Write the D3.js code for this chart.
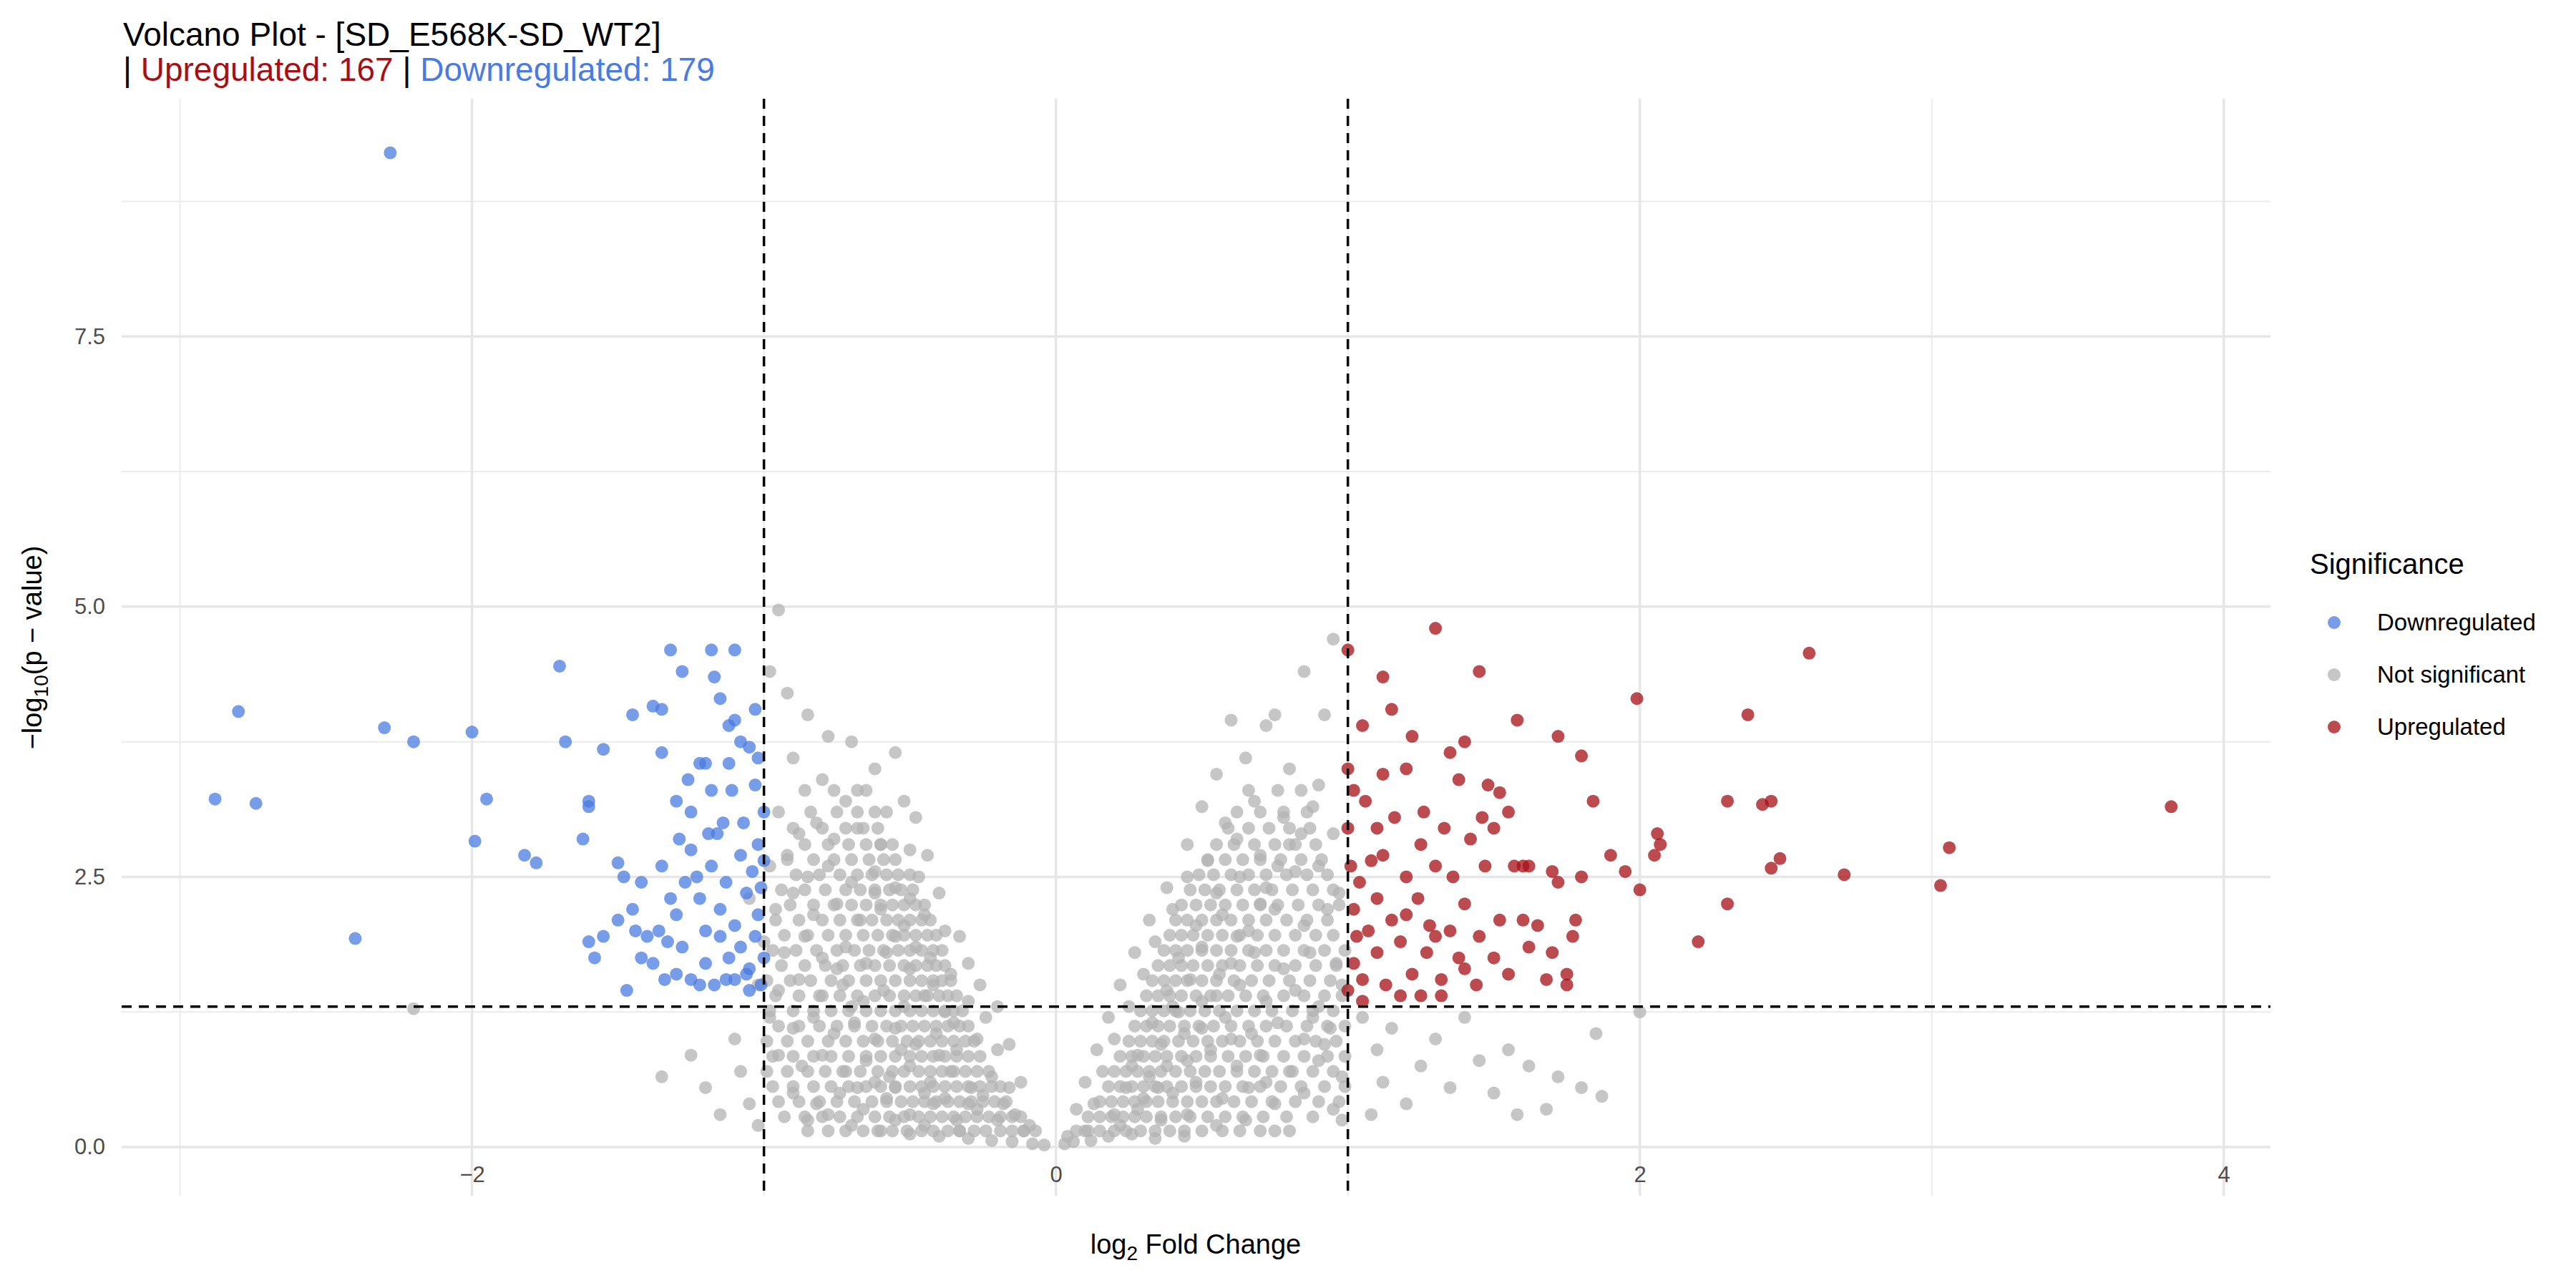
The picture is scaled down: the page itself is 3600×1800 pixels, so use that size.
<!DOCTYPE html>
<html><head><meta charset="utf-8">
<script src="https://cdn.jsdelivr.net/npm/d3@7"></script>
<style>body{margin:0;background:#fff}text{font-family:"Liberation Sans",Arial,sans-serif}</style>
</head><body>
<svg id="c" width="3600" height="1800"></svg>
<script>
const xTicks=[-2,0,2,4], yTicks=[0,2.5,5,7.5];
const xMinor=[-3,-1,1,3], yMinor=[1.25,3.75,6.25,8.75];
const legendLabels=["Downregulated","Not significant","Upregulated"];
const down=[[-2.88,3.22],[-2.8,4.03],[-2.74,3.18],[-2.4,1.93],[-2.3,3.88],[-2.28,9.2],[-2.2,3.75],[-2,3.84],[-1.99,2.83],[-1.95,3.22],[-1.82,2.7],[-1.78,2.63],[-1.7,4.45],[-1.68,3.75],[-1.6,3.15],[-1.6,3.2],[-1.55,3.68],[-1.5,2.63],[-1.48,2.5],[-1.47,1.45],[-1.45,4.0],[-1.42,1.75],[-1.44,2.0],[-1.38,4.08],[-1.35,4.05],[-1.35,3.65],[-1.32,4.6],[-1.3,3.2],[-1.28,4.4],[-1.25,3.1],[-1.23,2.5],[-1.2,3.55],[-1.18,4.6],[-1.17,4.35],[-1.15,4.15],[-1.12,3.9],[-1.1,4.6],[-1.1,3.95],[-1.05,3.7],[-1.03,4.05],[-1.02,3.6],
[-1.4,1.95],[-1.38,1.7],[-1.36,2.0],[-1.33,1.9],[-1.3,2.15],[-1.3,1.6],[-1.28,1.85],[-1.27,2.45],[-1.25,1.55],[-1.25,2.75],[-1.22,2.3],[-1.2,1.7],[-1.2,2.0],[-1.18,2.6],[-1.17,1.5],[-1.16,2.9],[-1.15,1.95],[-1.15,2.2],[-1.13,2.45],[-1.12,1.75],[-1.11,3.3],[-1.1,1.55],[-1.1,2.05],[-1.08,2.7],[-1.08,1.85],[-1.07,3.0],[-1.06,2.35],[-1.05,1.45],[-1.05,1.65],[-1.04,2.55],[-1.03,1.95],[-1.03,3.35],[-1.02,2.15],[-1.02,2.8],[-1.01,1.5],[-1.01,2.4],[-1.0,1.75],[-1.0,2.65],[-1.0,3.1],[-1.26,3.4],[-1.22,3.55],[-1.18,3.3],[-1.14,3.0],[-1.5,2.1],[-1.55,1.95],[-1.58,1.75],[-1.6,1.9],[-1.35,2.6],[-1.32,2.3],[-1.45,2.2],[-1.12,3.55],[-1.08,3.75],[-1.06,1.6],[-1.13,1.55],[-1.22,1.5],[-1.34,1.55],[-1.42,2.45],[-1.62,2.85],[-1.29,2.85],[-1.19,2.9]];
const up=[[1.0,4.6],[1.05,3.9],[1.12,4.35],[1.15,4.05],[1.2,3.5],[1.22,3.8],[1.3,4.8],[1.35,3.65],[1.4,3.75],[1.45,4.4],[1.58,3.95],[1.72,3.8],[1.8,3.62],[1.99,4.15],[2.37,4.0],[2.58,4.57],[2.3,3.2],[2.42,3.17],[2.45,3.2],[2.06,2.9],[2.07,2.8],[2.05,2.7],[1.9,2.7],[2.0,2.38],[2.3,2.25],[2.2,1.9],[2.48,2.67],[2.45,2.58],[2.7,2.52],[3.03,2.42],[3.06,2.77],[3.82,3.15],[1.52,3.28],[1.55,3.1],[1.5,2.95],[1.6,2.6],[1.7,2.55],[1.8,2.5],[1.84,3.2],[1.95,2.55],
[1.0,2.95],[1.01,2.6],[1.02,2.2],[1.02,1.7],[1.03,1.95],[1.04,2.45],[1.05,1.55],[1.06,3.2],[1.07,2.0],[1.08,2.65],[1.1,1.8],[1.1,2.3],[1.12,2.7],[1.13,1.5],[1.15,2.1],[1.16,3.05],[1.18,1.9],[1.2,2.5],[1.22,1.6],[1.24,2.3],[1.25,2.8],[1.27,1.8],[1.28,2.05],[1.3,2.6],[1.32,1.55],[1.33,2.95],[1.35,2.0],[1.36,2.5],[1.38,1.75],[1.4,2.25],[1.42,2.85],[1.44,1.5],[1.45,1.95],[1.47,2.6],[1.48,3.35],[1.5,1.75],[1.52,2.1],[1.55,1.6],[1.57,2.6],[1.6,2.1],[1.62,1.85],[1.65,2.05],[1.68,1.55],[1.7,1.8],[1.72,2.45],[1.75,1.5],[1.77,1.95],[1.78,2.1],[1.0,1.45],[1.0,3.5],[1.02,3.3],[1.05,1.35],[1.18,1.4],[1.25,1.4],[1.32,1.4],[1.12,3.45],[1.26,3.1],[1.38,3.4],[1.46,3.05],[1.1,2.95],[1.2,2.15],[1.3,1.95],[1.4,1.65],[1.62,2.6],[1.75,1.6]];
const grey=[[-0.95,4.97],[-0.98,4.4],[-0.92,4.2],[-0.85,4.0],[-0.78,3.8],[-0.7,3.75],[-0.62,3.5],[-0.55,3.65],[-0.9,3.6],[-0.8,3.4],[-0.72,3.2],[-0.65,3.3],[-0.58,3.1],[-0.52,3.2],[-0.48,3.05],[-0.95,3.1],[-0.88,2.9],[-0.82,3.0],[-0.76,2.85],[-0.68,2.95],[-0.6,2.8],[-0.5,2.75],[-0.44,2.7],[-0.98,2.6],[-0.92,2.7],[-0.85,2.5],[-0.78,2.6],[-0.7,2.45],[-0.62,2.55],[-0.55,2.4],[-0.47,2.5],[-0.4,2.35],[-1.05,2.3],[-0.96,2.2],[-0.9,2.35],[-0.83,2.15],[-0.75,2.25],[-0.67,2.1],[-0.6,2.2],[-0.52,2.05],[-0.45,2.15],[-0.38,2.0],[-0.33,1.95],[-1.0,1.9],[-0.93,1.8],[-0.86,1.95],[-0.8,1.75],[-0.72,1.85],[-0.65,1.7],[-0.58,1.8],[-0.5,1.65],[-0.43,1.75],[-0.36,1.6],[-0.3,1.7],[-0.26,1.5],[-1.02,1.5],[-0.95,1.45],[-0.88,1.55],[-0.8,1.4],[-0.73,1.5],[-0.66,1.35],[-0.59,1.45],[-0.52,1.3],[-0.45,1.4],[-0.38,1.25],[-0.3,1.35],[-0.24,1.2],[-0.2,1.3],[-0.98,1.2],[-0.9,1.1],[-0.83,1.2],[-0.76,1.05],[-0.69,1.15],[-0.62,1.0],[-0.55,1.1],[-0.48,0.95],[-0.41,1.05],[-0.34,0.9],[-0.27,1.0],[-0.2,0.9],[-0.16,0.95],[-0.95,0.85],[-0.87,0.75],[-0.8,0.85],[-0.72,0.7],[-0.65,0.8],[-0.57,0.65],[-0.5,0.75],[-0.43,0.6],[-0.36,0.7],[-0.29,0.55],[-0.22,0.65],[-0.16,0.55],[-0.12,0.6],[-0.9,0.5],[-0.82,0.4],[-0.74,0.5],[-0.66,0.35],[-0.58,0.45],[-0.5,0.3],[-0.42,0.4],[-0.34,0.25],[-0.27,0.35],[-0.2,0.25],[-0.14,0.3],[-0.09,0.2],[-0.7,0.2],[-0.6,0.15],[-0.5,0.12],[-0.4,0.1],[-0.3,0.08],[-0.22,0.06],[-0.15,0.05],[-0.08,0.03],[-0.04,0.02],[-0.45,0.5],[-0.38,0.45],[-0.3,0.4],[-0.55,0.55],[-0.62,0.6],[-0.25,0.48],[-0.18,0.4],[-0.11,0.15],[-0.33,0.15],[-0.45,0.2],[-0.55,0.25],[-0.35,1.15],[-0.42,1.5],[-0.48,1.85],[-0.55,1.95],[-0.62,2.35],[-0.5,2.3],[-0.4,0.85],[-0.53,0.9],[-0.7,1.3],[-0.75,1.65],[-0.68,0.55],[-1.05,0.4],[-1.08,0.7],[-1.1,1.0],[-1.15,0.3],[-1.2,0.55],[-1.25,0.85],[-1.35,0.65],[-2.2,1.28],[-1.02,0.2],[-0.85,0.25],[-0.78,0.3],
[0.95,4.7],[0.85,4.4],[0.92,4.0],[0.75,4.0],[0.6,3.95],[0.72,3.9],[0.65,3.6],[0.55,3.45],[0.8,3.5],[0.9,3.35],[0.5,3.15],[0.58,3.0],[0.68,3.2],[0.78,3.05],[0.88,3.15],[0.95,2.9],[0.45,2.8],[0.52,2.65],[0.62,2.85],[0.7,2.7],[0.8,2.8],[0.9,2.6],[0.38,2.4],[0.45,2.5],[0.55,2.35],[0.63,2.5],[0.72,2.4],[0.82,2.55],[0.97,2.35],[0.32,2.1],[0.4,2.2],[0.48,2.05],[0.57,2.15],[0.66,2.0],[0.75,2.2],[0.85,2.05],[0.93,2.2],[0.27,1.8],[0.34,1.9],[0.42,1.75],[0.5,1.85],[0.6,1.7],[0.68,1.8],[0.78,1.65],[0.87,1.8],[0.96,1.7],[0.22,1.5],[0.3,1.6],[0.38,1.45],[0.46,1.55],[0.55,1.4],[0.63,1.5],[0.72,1.35],[0.82,1.45],[0.9,1.3],[0.98,1.5],[0.18,1.2],[0.25,1.3],[0.33,1.15],[0.42,1.25],[0.5,1.1],[0.58,1.2],[0.67,1.05],[0.76,1.15],[0.85,1.0],[0.94,1.1],[0.14,0.9],[0.2,1.0],[0.28,0.85],[0.36,0.95],[0.45,0.8],[0.53,0.9],[0.62,0.75],[0.7,0.85],[0.8,0.7],[0.9,0.8],[0.98,0.65],[0.1,0.6],[0.16,0.7],[0.24,0.55],[0.32,0.65],[0.4,0.5],[0.48,0.6],[0.57,0.45],[0.66,0.55],[0.75,0.4],[0.85,0.5],[0.95,0.35],[0.07,0.35],[0.13,0.4],[0.2,0.3],[0.28,0.35],[0.36,0.25],[0.45,0.3],[0.55,0.2],[0.65,0.25],[0.75,0.15],[0.04,0.1],[0.1,0.15],[0.18,0.1],[0.26,0.12],[0.34,0.08],[0.44,0.1],[0.03,0.03],[0.06,0.05],[0.12,0.06],[0.22,0.2],[0.3,0.45],[0.38,0.75],[0.44,1.05],[0.5,1.35],[0.56,1.6],[0.62,1.95],[0.7,2.25],[0.76,2.6],[0.84,2.9],[0.35,0.55],[0.26,0.75],[0.4,1.3],[0.6,1.0],[0.72,0.6],[0.88,1.2],[0.92,0.95],[1.05,1.2],[1.1,0.9],[1.12,0.6],[1.15,1.1],[1.2,0.4],[1.25,0.75],[1.3,1.0],[1.35,0.55],[1.4,1.2],[1.45,0.8],[1.5,0.5],[1.55,0.9],[1.58,0.3],[1.62,0.75],[1.68,0.35],[1.72,0.65],[1.8,0.55],[1.87,0.47],[1.85,1.05],[2.0,1.25],[1.08,0.3],[0.98,0.25]];
const greyRows=[
[0.15,[-0.85,-0.78,-0.72,-0.66,-0.61,-0.56,-0.51,-0.46,-0.42,-0.37,-0.33,-0.28,-0.24,-0.19,-0.15,-0.11,-0.07,0.07,0.11,0.15,0.2,0.24,0.29,0.34,0.39,0.44,0.5,0.57,0.63,0.7,0.8]],
[0.28,[-0.93,-0.86,-0.8,-0.74,-0.68,-0.62,-0.57,-0.52,-0.47,-0.43,-0.39,-0.35,-0.31,-0.27,-0.23,-0.19,-0.15,-0.12,0.11,0.15,0.19,0.23,0.27,0.31,0.36,0.41,0.46,0.52,0.58,0.64,0.71,0.79,0.88]],
[0.42,[-0.95,-0.88,-0.81,-0.75,-0.69,-0.63,-0.58,-0.53,-0.49,-0.45,-0.41,-0.37,-0.33,-0.29,-0.25,-0.21,-0.17,0.15,0.19,0.23,0.27,0.31,0.35,0.4,0.45,0.5,0.55,0.61,0.67,0.74,0.82,0.9,0.97]],
[0.56,[-0.97,-0.9,-0.83,-0.77,-0.71,-0.65,-0.6,-0.55,-0.5,-0.46,-0.42,-0.38,-0.34,-0.3,-0.26,-0.22,-0.19,0.18,0.22,0.26,0.3,0.34,0.38,0.43,0.48,0.53,0.58,0.64,0.7,0.77,0.84,0.92,0.99]],
[0.7,[-0.99,-0.92,-0.85,-0.79,-0.73,-0.67,-0.61,-0.56,-0.52,-0.47,-0.43,-0.39,-0.35,-0.31,-0.27,-0.23,0.2,0.24,0.28,0.32,0.36,0.41,0.46,0.51,0.56,0.62,0.68,0.74,0.81,0.88,0.95]],
[0.84,[-0.97,-0.9,-0.83,-0.77,-0.71,-0.65,-0.6,-0.55,-0.5,-0.46,-0.42,-0.38,-0.34,-0.3,-0.26,0.22,0.26,0.3,0.34,0.38,0.43,0.48,0.53,0.59,0.65,0.71,0.78,0.85,0.93,0.99]],
[0.98,[-0.99,-0.92,-0.85,-0.78,-0.72,-0.66,-0.61,-0.56,-0.51,-0.47,-0.43,-0.39,-0.35,-0.31,-0.28,0.25,0.29,0.33,0.37,0.42,0.47,0.52,0.57,0.63,0.69,0.75,0.82,0.89,0.96]],
[1.12,[-0.95,-0.88,-0.81,-0.75,-0.69,-0.63,-0.58,-0.53,-0.49,-0.45,-0.41,-0.37,-0.33,-0.3,0.27,0.31,0.35,0.39,0.44,0.49,0.54,0.6,0.66,0.72,0.79,0.86,0.93,0.99]],
[1.26,[-0.98,-0.9,-0.83,-0.77,-0.71,-0.65,-0.6,-0.55,-0.5,-0.46,-0.42,-0.38,-0.35,-0.32,0.29,0.33,0.37,0.41,0.46,0.51,0.56,0.62,0.68,0.74,0.81,0.88,0.95]],
[1.4,[-0.96,-0.88,-0.81,-0.74,-0.68,-0.62,-0.57,-0.52,-0.48,-0.44,-0.4,-0.37,-0.34,0.31,0.35,0.39,0.43,0.48,0.53,0.59,0.65,0.71,0.78,0.85,0.92,0.98]],
[1.54,[-0.99,-0.91,-0.84,-0.77,-0.71,-0.65,-0.6,-0.55,-0.5,-0.46,-0.42,-0.39,-0.36,0.33,0.37,0.41,0.45,0.5,0.55,0.61,0.67,0.73,0.8,0.87,0.94]],
[1.68,[-0.94,-0.86,-0.79,-0.73,-0.67,-0.62,-0.57,-0.52,-0.48,-0.44,-0.41,-0.38,0.35,0.39,0.43,0.47,0.52,0.57,0.63,0.69,0.75,0.82,0.89,0.96]],
[1.82,[-0.97,-0.89,-0.82,-0.75,-0.69,-0.64,-0.59,-0.54,-0.5,-0.46,-0.42,-0.39,0.37,0.41,0.45,0.5,0.55,0.6,0.66,0.72,0.78,0.85,0.92,0.99]],
[1.96,[-0.93,-0.85,-0.78,-0.72,-0.66,-0.61,-0.56,-0.52,-0.48,-0.44,-0.41,0.39,0.43,0.47,0.52,0.57,0.63,0.69,0.75,0.82,0.89,0.95]],
[2.1,[-0.96,-0.88,-0.8,-0.74,-0.68,-0.63,-0.58,-0.54,-0.5,-0.46,-0.43,0.41,0.45,0.5,0.55,0.6,0.66,0.72,0.79,0.86,0.93]],
[2.24,[-0.91,-0.83,-0.76,-0.7,-0.65,-0.6,-0.56,-0.52,-0.48,-0.45,0.43,0.48,0.53,0.58,0.64,0.7,0.76,0.83,0.9,0.97]],
[2.38,[-0.94,-0.86,-0.79,-0.72,-0.67,-0.62,-0.57,-0.53,-0.49,0.46,0.51,0.56,0.62,0.68,0.74,0.81,0.88,0.95]],
[2.52,[-0.89,-0.81,-0.74,-0.68,-0.63,-0.58,-0.54,-0.5,0.49,0.54,0.6,0.66,0.72,0.79,0.86,0.93]],
[2.66,[-0.92,-0.83,-0.76,-0.7,-0.64,-0.59,-0.55,0.52,0.58,0.64,0.7,0.77,0.84,0.91]],
[2.8,[-0.86,-0.78,-0.71,-0.65,-0.6,-0.56,0.55,0.61,0.68,0.75,0.82,0.89]],
[2.95,[-0.9,-0.8,-0.72,-0.66,-0.61,0.59,0.66,0.73,0.8,0.87]],
[3.1,[-0.84,-0.75,-0.68,-0.62,0.62,0.7,0.78,0.86]],
[3.3,[-0.86,-0.76,-0.68,0.66,0.76,0.84]]];
const svg=d3.select("#c");
const x=d3.scaleLinear().domain([-3.2,4.16]).range([170,3173]);
const y=d3.scaleLinear().domain([-0.45,9.7]).range([1671,138]);
const g=svg.append("g");
xMinor.forEach(v=>g.append("line").attr("x1",x(v)).attr("x2",x(v)).attr("y1",138).attr("y2",1671).attr("stroke","#ebebeb").attr("stroke-width",2));
yMinor.forEach(v=>g.append("line").attr("y1",y(v)).attr("y2",y(v)).attr("x1",170).attr("x2",3173).attr("stroke","#ebebeb").attr("stroke-width",2));
xTicks.forEach(v=>g.append("line").attr("x1",x(v)).attr("x2",x(v)).attr("y1",138).attr("y2",1671).attr("stroke","#e6e6e6").attr("stroke-width",3.5));
yTicks.forEach(v=>g.append("line").attr("y1",y(v)).attr("y2",y(v)).attr("x1",170).attr("x2",3173).attr("stroke","#e6e6e6").attr("stroke-width",3.5));
const xa=svg.append("g").attr("transform","translate(0,1612)").call(d3.axisBottom(x).tickValues(xTicks).tickSize(0).tickFormat(d3.format("d")));
const ya=svg.append("g").attr("transform","translate(150,0)").call(d3.axisLeft(y).tickValues(yTicks).tickSize(0).tickFormat(d3.format(".1f")));
[xa,ya].forEach(a=>{a.select(".domain").remove();a.selectAll("text").attr("font-size",31).attr("fill","#4d4d4d").attr("font-family","Liberation Sans, Arial");});
xa.selectAll("text").attr("dy","1.2em");
const greyAll=[...grey];greyRows.forEach(([v,xs])=>xs.forEach(f=>greyAll.push([f,v])));
const pts=[...greyAll.map(d=>[d,"#b3b3b3"]),...down.map(d=>[d,"#4a7be0"]),...up.map(d=>[d,"#a50f15"])];
svg.append("g").selectAll("circle").data(pts).join("circle").attr("cx",d=>x(d[0][0])).attr("cy",d=>y(d[0][1])).attr("r",9).attr("fill",d=>d[1]).attr("opacity",0.75);
const dash={stroke:"#000","stroke-width":3.5,"stroke-dasharray":"14,10"};
function L(a){const l=svg.append("line");Object.entries({...a,...dash}).forEach(([k,v])=>l.attr(k,v));}
[-1,1].forEach(v=>L({x1:x(v),x2:x(v),y1:138,y2:1671}));
L({x1:170,x2:3173,y1:y(1.3),y2:y(1.3)});
svg.append("text").attr("x",172).attr("y",64).attr("font-size",46).text("Volcano Plot - [SD_E568K-SD_WT2]");
const t2=svg.append("text").attr("x",172).attr("y",113).attr("font-size",46);
t2.append("tspan").text("| ");t2.append("tspan").attr("fill","#a50f15").text("Upregulated: 167");
t2.append("tspan").text(" | ");t2.append("tspan").attr("fill","#4a7be0").text("Downregulated: 179");
const xl=svg.append("text").attr("x",1671).attr("y",1752).attr("text-anchor","middle").attr("font-size",38);
xl.append("tspan").text("log");xl.append("tspan").attr("font-size",28).attr("dy",9).text("2");xl.append("tspan").attr("dy",-9).text(" Fold Change");
const yl=svg.append("text").attr("transform","translate(58,905) rotate(-90)").attr("text-anchor","middle").attr("font-size",38);
yl.append("tspan").text("\u2212log");yl.append("tspan").attr("font-size",28).attr("dy",9).text("10");yl.append("tspan").attr("dy",-9).text("(p \u2212 value)");
svg.append("text").attr("x",3228).attr("y",802).attr("font-size",40).text("Significance");
const lc=["#4a7be0","#b3b3b3","#a50f15"];
legendLabels.forEach((s,i)=>{const yy=870+i*73;
svg.append("circle").attr("cx",3262).attr("cy",yy).attr("r",9).attr("fill",lc[i]).attr("opacity",0.75);
svg.append("text").attr("x",3322).attr("y",yy+11).attr("font-size",33).text(s);});
</script></body></html>
